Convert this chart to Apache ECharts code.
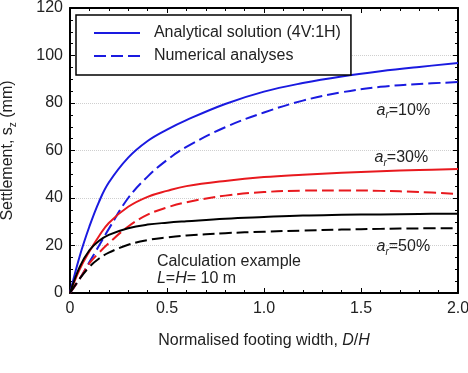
<!DOCTYPE html>
<html>
<head>
<meta charset="utf-8">
<script src="https://cdn.jsdelivr.net/npm/echarts@6/dist/echarts.min.js"></script>
<style>
    html, body { margin: 0; padding: 0; background: #fff; }
    #chartDiv { width: 468px; height: 373px; }
</style>
</head>
<body>
<div id="chartDiv"></div>
<script>
// normalised footing width D/H
var dH = [0, 0.05, 0.1, 0.15, 0.2, 0.3, 0.4, 0.5, 0.6, 0.8, 1.0, 1.2, 1.4, 1.6, 1.8, 2.0];

// settlement s_z (mm)
var ana10 = [0, 15.5, 28, 38.5, 46.5, 57, 64, 68.8, 72.8, 79.6, 84.8, 88.4, 91.2, 93.4, 95.2, 96.8];
var num10 = [0, 6, 13, 20, 27, 40, 49, 56, 61.5, 69.8, 76, 81, 84.5, 86.8, 88, 88.8];
var ana30 = [0, 10, 17.5, 24, 29.5, 36.3, 40.5, 43, 45, 47.2, 48.8, 49.8, 50.6, 51.3, 51.8, 52.2];
var num30 = [0, 6, 12.5, 17, 21, 28, 33, 36, 38.2, 41, 42.5, 43.1, 43.2, 43, 42.5, 41.7];
var ana50 = [0, 11, 18, 22, 24.5, 27.3, 28.8, 29.6, 30.2, 31.3, 32, 32.6, 32.9, 33.1, 33.3, 33.4];
var num50 = [0, 6, 11, 14.5, 17, 20.3, 22.3, 23.4, 24.2, 25.2, 25.8, 26.3, 26.7, 27, 27.2, 27.3];

// curve labels: [x, y, ratio]
var ratioLabels = [[1.58, 77, '10%'], [1.57, 57, '30%'], [1.58, 19.5, '50%']];
var noteLabel = [0.448, 9.8];

var font = 'Liberation Sans, Arial, sans-serif';

function pairs(vals) {
    return dH.map(function (x, i) {
        return [x, vals[i]];
    });
}

function curve(name, color, vals, dashed) {
    return {
        name: name,
        type: 'line',
        smooth: 0.4,
        symbol: 'none',
        data: pairs(vals),
        lineStyle: {
            color: color,
            width: 2,
            type: dashed ? [12, 5] : 'solid'
        },
        itemStyle: { color: color },
        z: 3
    };
}

var axisLine = { show: true, onZero: false, lineStyle: { color: '#000', width: 2 } };
var axisTick = { show: true, inside: true, length: 5, lineStyle: { color: '#000', width: 1 } };

function minor(n) {
    return { show: true, splitNumber: n, length: 3, lineStyle: { color: '#000', width: 1 } };
}

var myChart = echarts.init(document.getElementById('chartDiv'));
myChart.setOption({
    animation: false,
    textStyle: { fontFamily: font },
    grid: {
        left: 70,
        right: 10,
        top: 8,
        bottom: 80,
        containLabel: false,
        outerBoundsMode: 'none'
    },
    legend: {
        data: ['Analytical solution (4V:1H)', 'Numerical analyses'],
        orient: 'vertical',
        left: 76,
        top: 15,
        padding: [10, 10, 11, 17],
        itemGap: 7,
        itemWidth: 46,
        itemHeight: 14,
        borderColor: '#000',
        borderWidth: 1.5,
        backgroundColor: '#fff',
        itemStyle: { opacity: 0 },
        formatter: function (name) {
            return '  ' + name;
        },
        textStyle: { fontSize: 16, color: '#222', fontFamily: font }
    },
    xAxis: [
        {
            type: 'value',
            min: 0,
            max: 2,
            interval: 0.5,
            axisLine: axisLine,
            axisTick: axisTick,
            minorTick: minor(5),
            axisLabel: {
                color: '#222',
                fontSize: 16,
                margin: 8,
                formatter: function (v) {
                    return v === 0 ? '0' : v.toFixed(1);
                }
            },
            splitLine: { show: false },
            name: 'Normalised footing width, {i|D}/{i|H}',
            nameLocation: 'middle',
            nameGap: 40,
            nameTextStyle: {
                fontSize: 16,
                color: '#222',
                rich: { i: { fontStyle: 'italic', fontSize: 16, color: '#222' } }
            }
        },
        {
            type: 'value',
            position: 'top',
            min: 0,
            max: 2,
            interval: 0.5,
            axisLine: axisLine,
            axisTick: axisTick,
            minorTick: minor(5),
            axisLabel: { show: false },
            splitLine: { show: false }
        }
    ],
    yAxis: [
        {
            type: 'value',
            min: 0,
            max: 120,
            interval: 20,
            axisLine: axisLine,
            axisTick: axisTick,
            minorTick: minor(4),
            axisLabel: { color: '#222', fontSize: 16, margin: 7 },
            splitLine: { show: true, lineStyle: { color: '#cfcfcf', type: 'dotted', width: 1 } },
            name: 'Settlement, s{s|z} (mm)',
            nameLocation: 'middle',
            nameGap: 52,
            nameTextStyle: {
                fontSize: 16,
                color: '#222',
                rich: { s: { fontSize: 10, color: '#222', padding: [10, 0, 0, 0] } }
            }
        },
        {
            type: 'value',
            position: 'right',
            min: 0,
            max: 120,
            interval: 20,
            axisLine: axisLine,
            axisTick: axisTick,
            minorTick: minor(4),
            axisLabel: { show: false },
            splitLine: { show: false }
        }
    ],
    series: [
        curve('Analytical solution (4V:1H)', '#1a1ae0', ana10, false),
        curve('Numerical analyses', '#1a1ae0', num10, true),
        curve('ar30 analytical', '#e8191e', ana30, false),
        curve('ar30 numerical', '#e8191e', num30, true),
        curve('ar50 analytical', '#000', ana50, false),
        curve('ar50 numerical', '#000', num50, true),
        {
            name: 'ratio labels',
            type: 'scatter',
            symbolSize: 0,
            itemStyle: { opacity: 1 },
            data: ratioLabels.map(function (r) {
                return { value: [r[0], r[1]], ratio: r[2] };
            }),
            label: {
                show: true,
                position: 'right',
                distance: 0,
                opacity: 1,
                formatter: function (p) {
                    return '{i|a}{s|r}{n|=' + p.data.ratio + '}';
                },
                rich: {
                    i: { fontSize: 16, fontStyle: 'italic', color: '#222' },
                    s: { fontSize: 10, fontStyle: 'italic', color: '#222', padding: [11, 0, 0, 0] },
                    n: { fontSize: 16, color: '#222' }
                }
            },
            silent: true,
            z: 5
        },
        {
            name: 'note',
            type: 'scatter',
            symbolSize: 0,
            itemStyle: { opacity: 1 },
            data: [noteLabel],
            label: {
                show: true,
                position: 'right',
                distance: 0,
                align: 'left',
                opacity: 1,
                lineHeight: 17,
                formatter: 'Calculation example\n{i|L}={i|H}= 10 m',
                fontSize: 16,
                color: '#222',
                rich: { i: { fontStyle: 'italic', fontSize: 16, color: '#222', lineHeight: 17 } }
            },
            silent: true,
            z: 5
        }
    ]
});
</script>
</body>
</html>
